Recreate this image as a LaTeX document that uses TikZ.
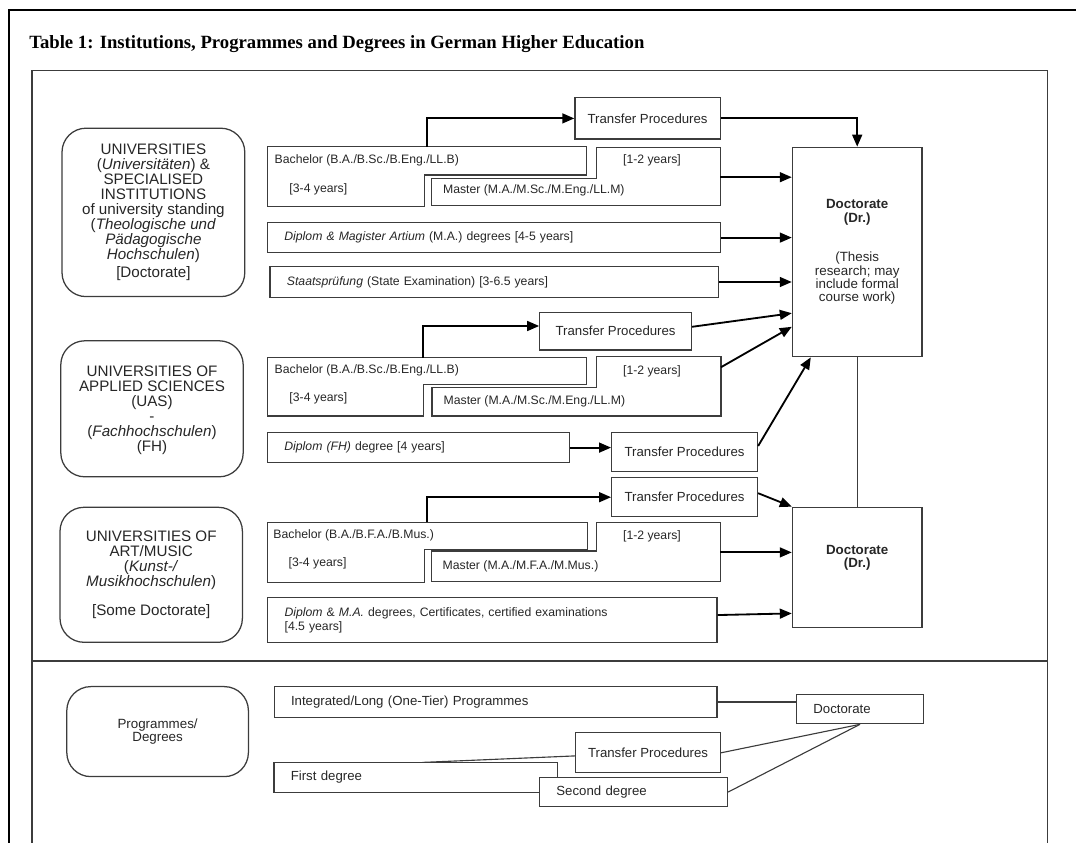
\documentclass[tikz,border=0pt]{standalone}
\usepackage{fontspec}
\setmainfont{Liberation Serif}
\setsansfont{Liberation Sans}
\usetikzlibrary{arrows.meta}
\definecolor{linegray}{HTML}{3C3C3C}

\begin{document}
\begin{tikzpicture}[>={Triangle[length=8.5pt,width=7pt]},
  outline/.style={draw=linegray,line width=0.9pt},
  box/.style={outline,text=black!85,font=\sffamily\fontsize{8.7}{10}\selectfont},
  tpbox/.style={box,align=center,font=\sffamily\fontsize{9.4}{11}\selectfont},
  textbox/.style={box,align=left,inner xsep=0.42cm,text width=#1},
  inst/.style={outline,rounded corners=0.6cm,align=center,text=black!85,font=\sffamily\fontsize{10.8}{10.7}\selectfont},
  txt/.style={inner sep=0pt,text=black!85,font=\sffamily\fontsize{8.7}{10}\selectfont},
  flow/.style={->,line width=1.3pt},
  link/.style={line width=0.8pt,draw=linegray}]
  \useasboundingbox (0,0) rectangle (26.9,-21.075);

  % frames
  \draw[line width=1.3pt] (26.9,-0.25) -- (0.215,-0.25) -- (0.215,-21.075);
  \draw[outline] (0.8,-21.075) -- (0.8,-1.765) -- (26.18,-1.765) -- (26.18,-21.075);
  \draw[outline] (0.8,-16.525) -- (26.18,-16.525);
  \node[anchor=base west,inner sep=0pt,font=\bfseries\fontsize{13.3}{15}\selectfont] (title) at (0.725,-1.225)
    {Table 1: Institutions, Programmes and Degrees in German Higher Education};

  % institutions
  \node[inst,minimum width=4.57cm,minimum height=4.21cm] (univ) at (3.835,-5.31)
    {UNIVERSITIES\\(\textit{Universitäten}) \&\\SPECIALISED\\INSTITUTIONS\\of university standing\\
     (\textit{Theologische und}\\\textit{Pädagogische}\\\textit{Hochschulen})\\[2pt]{[Doctorate]}};
  \node[inst,minimum width=4.56cm,minimum height=3.40cm] (uas) at (3.80,-10.22)
    {~\\[-1.1pt]UNIVERSITIES OF\\APPLIED SCIENCES\\(UAS)\\-\\(\textit{Fachhochschulen})\\(FH)};
  \node[inst,minimum width=4.56cm,minimum height=3.375cm] (art) at (3.78,-14.37)
    {UNIVERSITIES OF\\ART/MUSIC\\(\textit{Kunst-/}\\\textit{Musikhochschulen})\\[9.9pt]{[Some Doctorate]}};
  \node[inst,minimum width=4.54cm,minimum height=2.25cm,font=\sffamily\fontsize{9.5}{8.8}\selectfont] (prog) at (3.94,-18.29)
    {Programmes/\\Degrees};

  % universities
  \draw[outline] (6.69,-3.67) -- (14.67,-3.67) -- (14.67,-4.375) -- (10.61,-4.375) -- (10.61,-5.17) -- (6.69,-5.17) -- cycle;
  \draw[outline] (10.79,-4.46) -- (14.905,-4.46) -- (14.905,-3.68) -- (18.01,-3.68) -- (18.01,-5.14) -- (10.79,-5.14) -- cycle;
  \node[txt,anchor=west] (bach1) at (6.86,-4.02) {Bachelor (B.A./B.Sc./B.Eng./LL.B)};
  \node[txt,anchor=west] (bach1y) at (7.23,-4.725) {[3-4 years]};
  \node[txt,anchor=west] (mast1) at (11.07,-4.77) {Master (M.A./M.Sc./M.Eng./LL.M)};
  \node[txt] (mast1y) at (16.30,-4.0) {[1-2 years]};
  \coordinate (b1up) at (10.68,-3.67);
  \coordinate (m1e) at (18.01,-4.43);
  \node[tpbox,minimum width=3.635cm,minimum height=1.03cm] (tp1) at (16.19,-2.96) {Transfer Procedures};
  \node[textbox=10.48cm,minimum height=0.74cm] (dip1) at (12.35,-5.94)
    {\textit{Diplom \& Magister Artium} (M.A.) degrees [4-5 years]};
  \node[textbox=10.375cm,minimum height=0.765cm] (stx) at (12.36,-7.05)
    {\textit{Staatsprüfung} (State Examination) [3-6.5 years]};
  \node[box,align=center,font=\sffamily\fontsize{9.5}{9.4}\selectfont,minimum width=3.24cm,minimum height=5.235cm] (doc1) at (21.43,-6.30)
    {~\\[-2.8pt]\textbf{Doctorate}\\\textbf{(Dr.)}\\[18.9pt](Thesis\\research; may\\include formal\\course work)};

  % applied sciences
  \draw[outline] (6.69,-8.94) -- (14.67,-8.94) -- (14.67,-9.61) -- (10.595,-9.61) -- (10.595,-10.4) -- (6.69,-10.4) -- cycle;
  \draw[outline] (10.8,-9.69) -- (14.91,-9.69) -- (14.91,-8.92) -- (18.025,-8.92) -- (18.025,-10.4) -- (10.8,-10.4) -- cycle;
  \node[txt,anchor=west] (bach2) at (6.86,-9.25) {Bachelor (B.A./B.Sc./B.Eng./LL.B)};
  \node[txt,anchor=west] (bach2y) at (7.23,-9.96) {[3-4 years]};
  \node[txt,anchor=west] (mast2) at (11.085,-10.025) {Master (M.A./M.Sc./M.Eng./LL.M)};
  \node[txt] (mast2y) at (16.30,-9.275) {[1-2 years]};
  \coordinate (b2up) at (10.585,-8.94);
  \coordinate (m2e) at (18.025,-9.18);
  \node[tpbox,minimum width=3.79cm,minimum height=0.94cm] (tp2) at (15.39,-8.28) {Transfer Procedures};
  \node[textbox=6.70cm,minimum height=0.75cm] (dfh) at (10.46,-11.19) {\textit{Diplom (FH)} degree [4 years]};
  \node[tpbox,minimum width=3.645cm,minimum height=0.98cm] (tp3) at (17.115,-11.30) {Transfer Procedures};

  % art and music
  \draw[outline] (6.69,-13.06) -- (14.685,-13.06) -- (14.685,-13.73) -- (10.61,-13.73) -- (10.61,-14.56) -- (6.69,-14.56) -- cycle;
  \draw[outline] (10.79,-13.775) -- (14.905,-13.775) -- (14.905,-13.07) -- (18.01,-13.07) -- (18.01,-14.54) -- (10.79,-14.54) -- cycle;
  \node[txt,anchor=west] (bach3) at (6.83,-13.375) {Bachelor (B.A./B.F.A./B.Mus.)};
  \node[txt,anchor=west] (bach3y) at (7.21,-14.08) {[3-4 years]};
  \node[txt,anchor=west] (mast3) at (11.06,-14.15) {Master (M.A./M.F.A./M.Mus.)};
  \node[txt] (mast3y) at (16.30,-13.4) {[1-2 years]};
  \coordinate (b3up) at (10.67,-13.06);
  \coordinate (m3e) at (18.01,-13.81);
  \node[tpbox,minimum width=3.645cm,minimum height=0.97cm] (tp4) at (17.115,-12.43) {Transfer Procedures};
  \node[textbox=10.39cm,minimum height=1.115cm] (dip3) at (12.31,-15.5)
    {\textit{Diplom} \& \textit{M.A.} degrees, Certificates, certified examinations\\{[4.5 years]}};
  \node[box,align=center,font=\sffamily\fontsize{9.5}{9.4}\selectfont,minimum width=3.24cm,minimum height=3.005cm] (doc2) at (21.43,-14.185)
    {\textbf{Doctorate}\\\textbf{(Dr.)}\\[6pt]~};

  \draw[flow] (b1up) |- (tp1);
  \draw[flow] (tp1) -| (doc1);
  \draw[flow] (m1e) -- (m1e -| doc1.west);
  \draw[flow] (dip1) -- (dip1 -| doc1.west);
  \draw[flow] (stx) -- (stx -| doc1.west);
  \draw[flow] (b2up) |- ([yshift=0.13cm]tp2.west);
  \draw[flow] ([yshift=0.11cm]tp2.east) -- ([yshift=-1.53cm]doc1.west);
  \draw[flow] (m2e) -- ([yshift=-1.87cm]doc1.west);
  \draw[flow] (dfh) -- (dfh -| tp3.west);
  \draw[flow] ([yshift=0.15cm]tp3.east) -- ([xshift=-1.16cm]doc1.south);
  \draw[flow] (b3up) |- (tp4);
  \draw[flow] ([yshift=0.1cm]tp4.east) -- (doc2.north west);
  \draw[flow] (m3e) -- (m3e -| doc2.west);
  \draw[flow] (dip3) -- ([yshift=-1.15cm]doc2.west);
  \draw[link] (doc1) -- (doc2);

  % programmes / degrees
  \tikzset{box/.append style={font=\sffamily\fontsize{9.4}{11}\selectfont}}
  \node[textbox=10.23cm,minimum height=0.765cm] (intg) at (12.39,-17.55) {Integrated/Long (One-Tier) Programmes};
  \node[textbox=2.33cm,minimum height=0.735cm] (docs) at (21.50,-17.725) {Doctorate};
  \node[tpbox,minimum width=3.62cm,minimum height=1.0cm] (tpb) at (16.20,-18.82) {Transfer Procedures};
  \node[textbox=6.24cm,minimum height=0.75cm] (first) at (10.39,-19.43) {First degree};
  \node[textbox=3.86cm,minimum height=0.735cm,fill=white] (second) at (15.84,-19.8) {Second degree};
  \coordinate (fd) at (10.56,-19.06);
  \draw[link] (intg) -- (intg -| docs.west);
  \draw[link] (fd) -- (tpb);
  \draw[link] (tpb.east) -- (docs.south);
  \draw[link] (second.east) -- (docs.south);
\end{tikzpicture}
\end{document}
